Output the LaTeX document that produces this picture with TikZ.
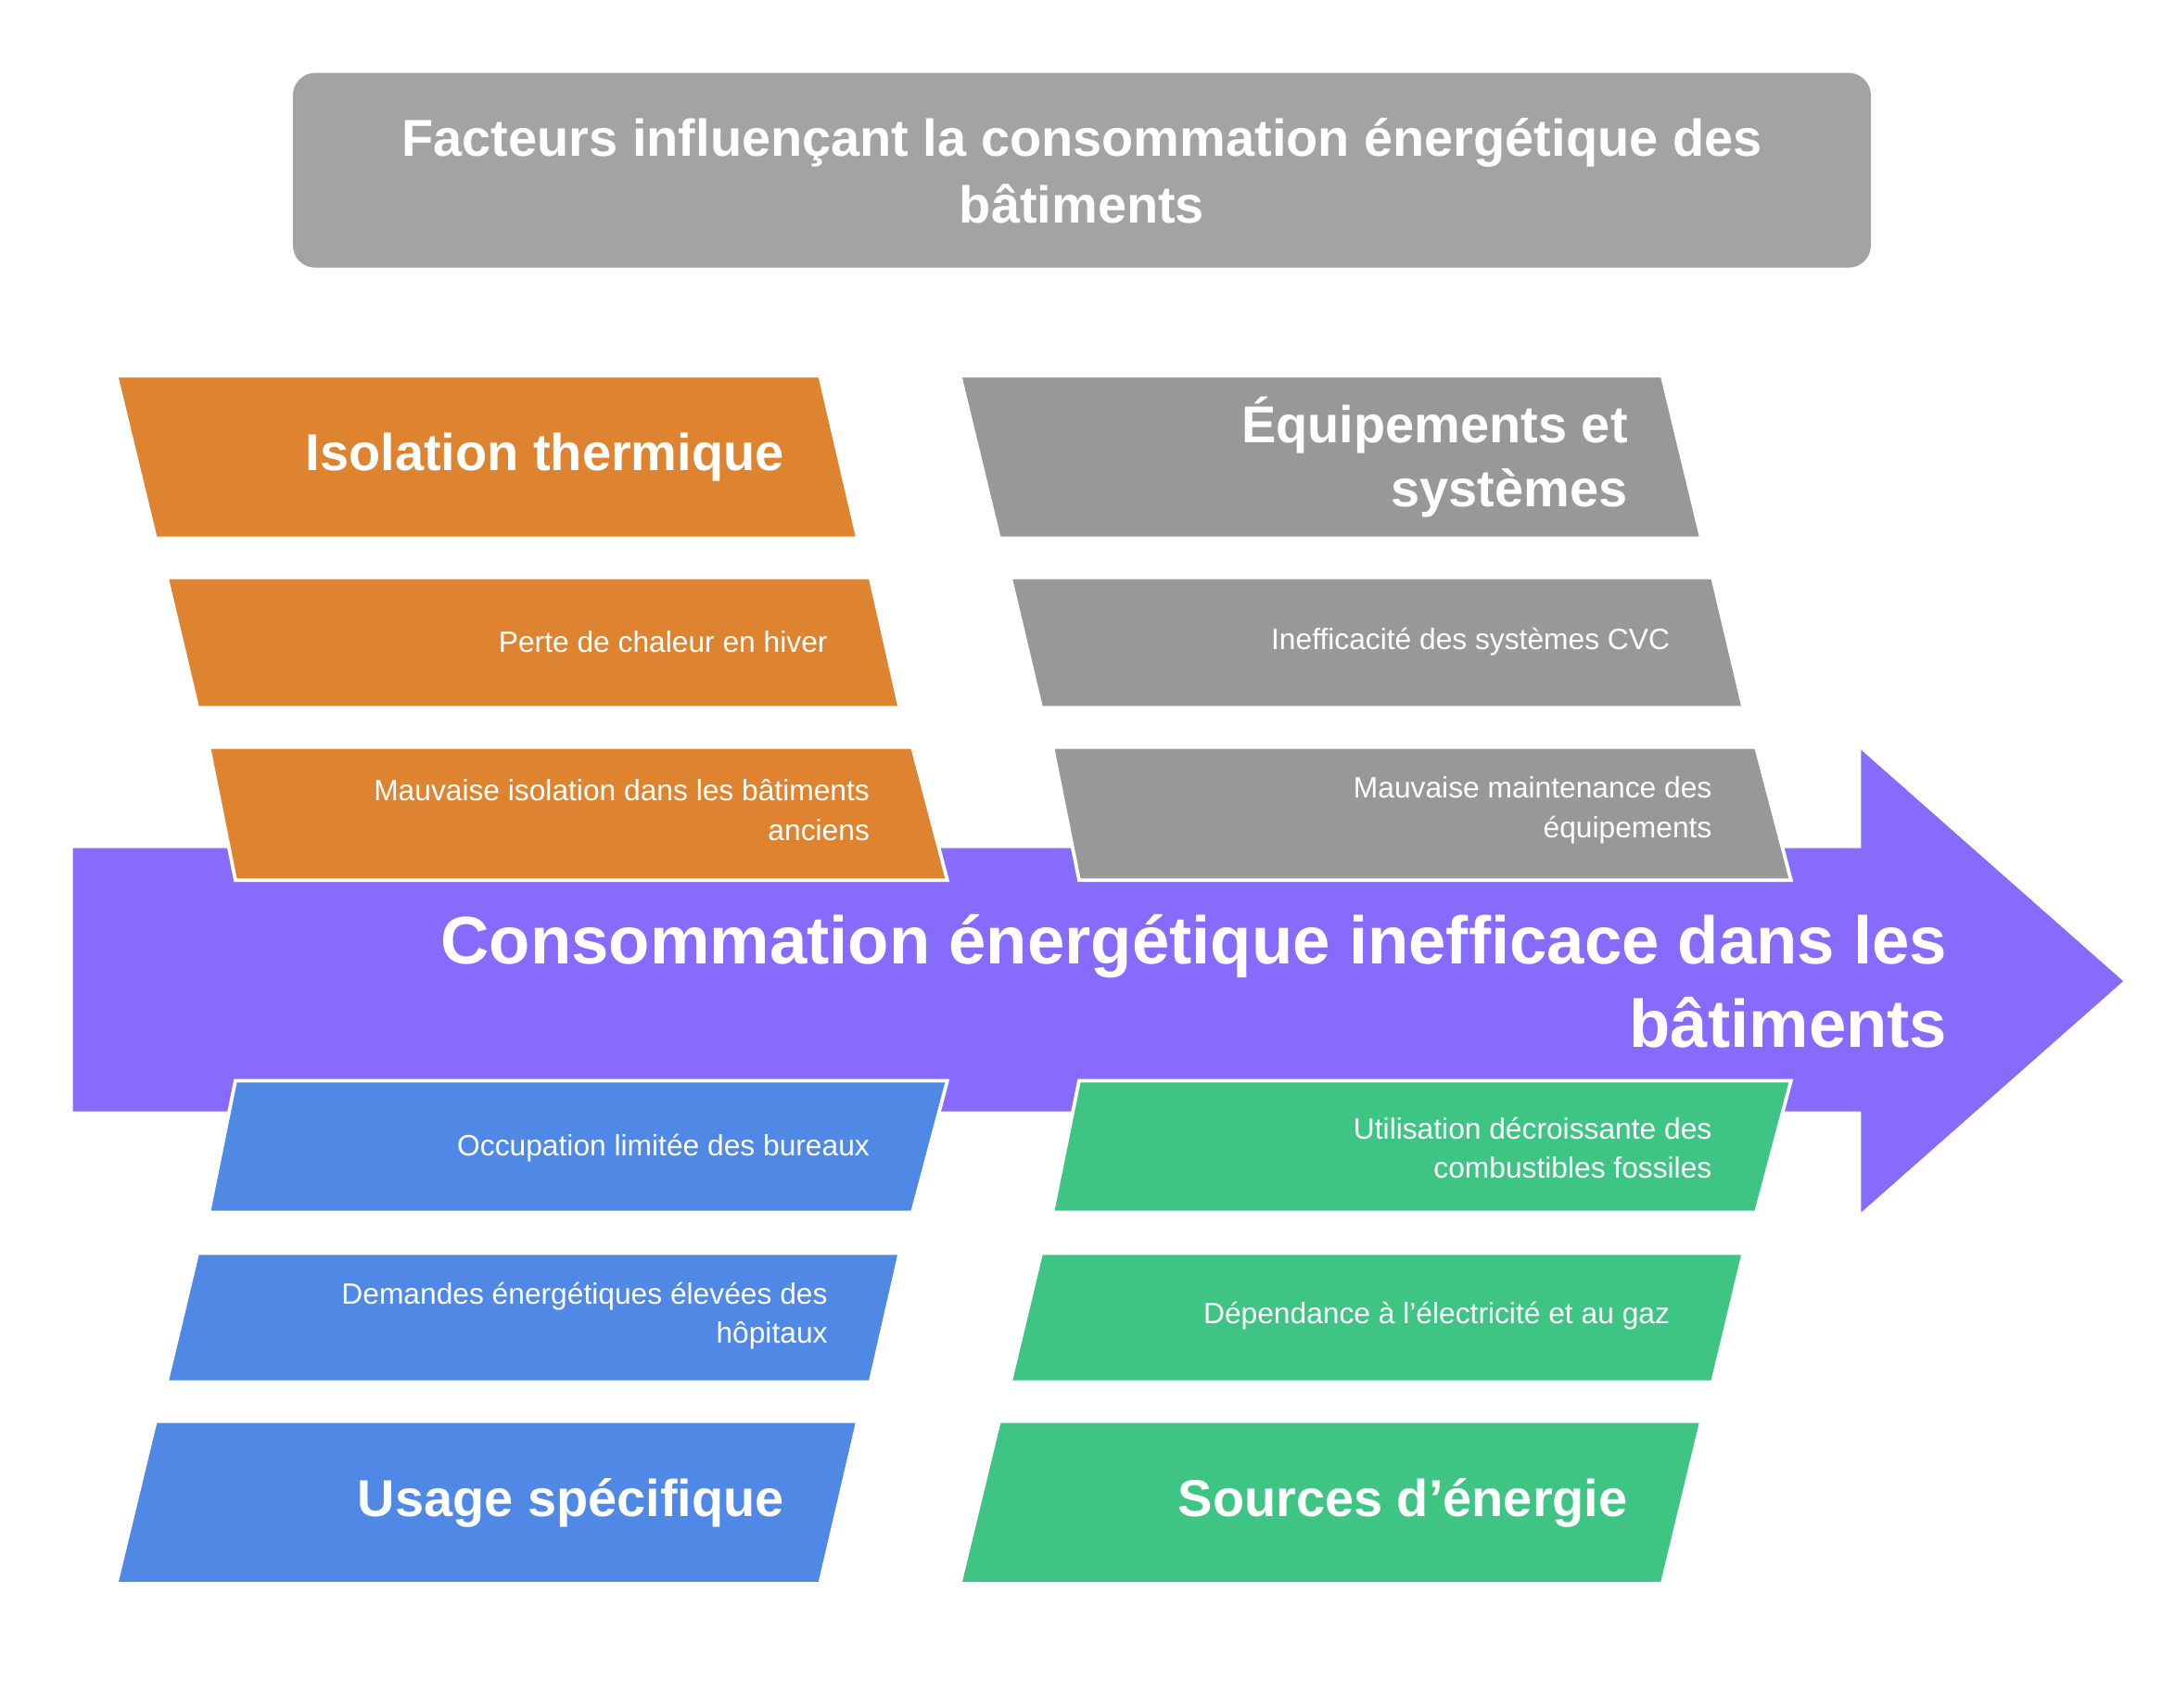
\documentclass[tikz,border=0pt]{standalone}
\usepackage{fontspec}
\setmainfont{Liberation Sans}
\definecolor{cor}{HTML}{DE8431}
\definecolor{cgr}{HTML}{989898}
\definecolor{ctl}{HTML}{A3A3A3}
\definecolor{cbl}{HTML}{4F88E5}
\definecolor{cgn}{HTML}{3EC584}
\definecolor{cpu}{HTML}{866BFD}
\tikzset{
 pbox/.style={draw=white,line width=2.5pt,line join=miter},
 small/.style={text=white,anchor=east,align=right,font=\fontsize{21}{28}\selectfont},
 big/.style={text=white,anchor=east,align=right,font=\fontsize{37}{46}\selectfont\bfseries},
}
\begin{document}
\begin{tikzpicture}[x=1pt,y=-1pt]
\useasboundingbox (0,0) rectangle (1552,1218);
\fill[white] (0,0) rectangle (1552,1218);
% title
\fill[ctl,rounded corners=16pt] (209,52) rectangle (1335,191);
\node[text=white,align=center,font=\fontsize{37}{48}\selectfont\bfseries] (title) at (772,122) {Facteurs influençant la consommation énergétique des\\bâtiments};
% arrow
\fill[cpu] (52,605) -- (1328,605) -- (1328,535) -- (1515,700) -- (1328,865) -- (1328,793) -- (52,793) -- cycle;
\node[text=white,anchor=east,align=right,font=\fontsize{48}{60}\selectfont\bfseries] (main) at (1393,700) {Consommation énergétique inefficace dans les\\bâtiments};
% top left
\fill[cor,pbox] (83,268) -- (585,268) -- (612,384) -- (111,384) -- cycle;
\node[big] (iso) at (563,326) {Isolation thermique};
\fill[cor,pbox] (119,412) -- (621,412) -- (642,505) -- (141,505) -- cycle;
\node[small] (perte) at (594,458) {Perte de chaleur en hiver};
\fill[cor,pbox] (149,533) -- (651,533) -- (676,628) -- (168,628) -- cycle;
\node[small] (mauv) at (624,578) {Mauvaise isolation dans les bâtiments\\anciens};
% top right
\fill[cgr,pbox] (685,268) -- (1186,268) -- (1214,384) -- (713,384) -- cycle;
\node[big] (equip) at (1165,326) {Équipements et\\systèmes};
\fill[cgr,pbox] (721,412) -- (1222,412) -- (1244,505) -- (743,505) -- cycle;
\node[small] (ineff) at (1195,458) {Inefficacité des systèmes CVC};
\fill[cgr,pbox] (751,533) -- (1253,533) -- (1278,628) -- (770,628) -- cycle;
\node[small] (maint) at (1225,578) {Mauvaise maintenance des\\équipements};
% bottom left
\fill[cbl,pbox] (168,771) -- (676,771) -- (651,865) -- (149,865) -- cycle;
\node[small] (occ) at (624,819) {Occupation limitée des bureaux};
\fill[cbl,pbox] (141,894) -- (642,894) -- (621,986) -- (119,986) -- cycle;
\node[small] (dem) at (594,939) {Demandes énergétiques élevées des\\hôpitaux};
\fill[cbl,pbox] (111,1014) -- (612,1014) -- (585,1130) -- (83,1130) -- cycle;
\node[big] (usage) at (563,1072) {Usage spécifique};
% bottom right
\fill[cgn,pbox] (770,771) -- (1278,771) -- (1253,865) -- (751,865) -- cycle;
\node[small] (util) at (1225,819) {Utilisation décroissante des\\combustibles fossiles};
\fill[cgn,pbox] (743,894) -- (1244,894) -- (1222,986) -- (721,986) -- cycle;
\node[small] (dep) at (1195,939) {Dépendance à l'électricité et au gaz};
\fill[cgn,pbox] (713,1014) -- (1214,1014) -- (1186,1130) -- (685,1130) -- cycle;
\node[big] (src) at (1165,1072) {Sources d'énergie};
\end{tikzpicture}
\end{document}
